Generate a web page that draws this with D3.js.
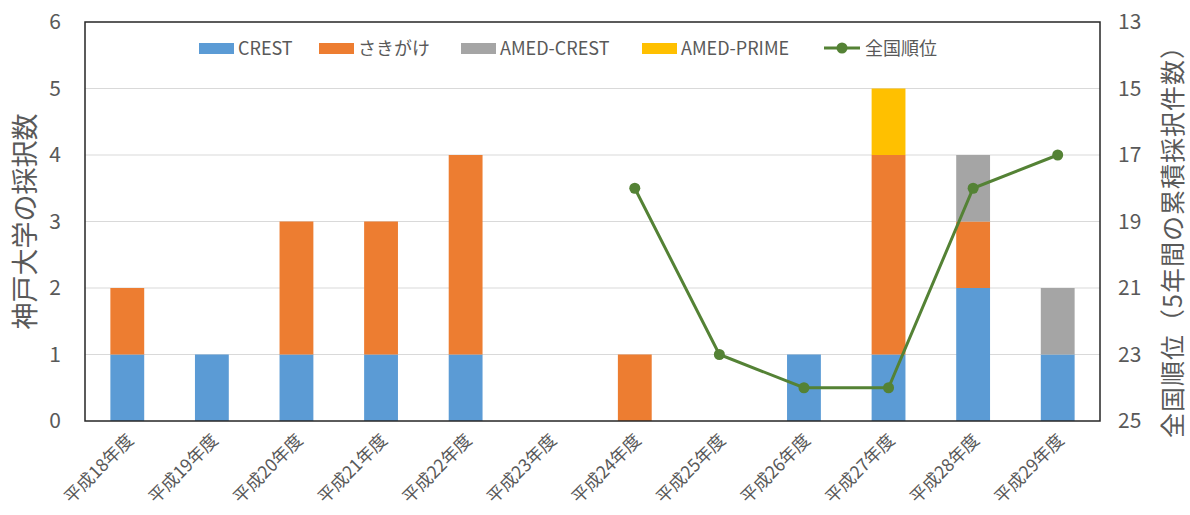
<!DOCTYPE html>
<html>
<head>
<meta charset="utf-8">
<script src="https://cdn.jsdelivr.net/npm/d3@7"></script>
<style>
  body { margin: 0; background: #fff; }
  text { font-family: "Noto Sans CJK JP", "Noto Sans", sans-serif; fill: #595959; }
</style>
</head>
<body>
<div id="chart"></div>
<script>
// データ
const years = ["平成18年度","平成19年度","平成20年度","平成21年度","平成22年度","平成23年度",
               "平成24年度","平成25年度","平成26年度","平成27年度","平成28年度","平成29年度"];
const crest      = [1, 1, 1, 1, 1, 0, 0, 0, 1, 1, 2, 1];
const sakigake   = [1, 0, 2, 2, 3, 0, 1, 0, 0, 3, 1, 0];
const amedCrest  = [0, 0, 0, 0, 0, 0, 0, 0, 0, 0, 1, 1];
const amedPrime  = [0, 0, 0, 0, 0, 0, 0, 0, 0, 1, 0, 0];
const rank       = [null, null, null, null, null, null, 18, 23, 24, 24, 18, 17];
const seriesNames = ["CREST", "さきがけ", "AMED-CREST", "AMED-PRIME"];
const colors = ["#5B9BD5", "#ED7D31", "#A5A5A5", "#FFC000"];
const lineName = "全国順位";
const lineColor = "#548235";

const W = 1190, H = 515;
const m = {left: 85, right: 90, top: 22, bottom: 94};

const svg = d3.select("#chart").append("svg")
  .attr("width", W).attr("height", H);

const x = d3.scaleBand().domain(years)
  .range([m.left, W - m.right]).paddingInner(0.6).paddingOuter(0.3);
const y = d3.scaleLinear().domain([0, 6]).range([H - m.bottom, m.top]);
const y2 = d3.scaleLinear().domain([25, 13]).range([H - m.bottom, m.top]);

// 積み上げ用テーブル
const table = years.map((yr, i) => ({
  year: yr, "CREST": crest[i], "さきがけ": sakigake[i],
  "AMED-CREST": amedCrest[i], "AMED-PRIME": amedPrime[i]
}));
const stacked = d3.stack().keys(seriesNames)(table);

// グリッド線
svg.append("g")
  .selectAll("line")
  .data(y.ticks(6).filter(d => d > 0 && d < 6))
  .join("line")
    .attr("x1", m.left).attr("x2", W - m.right)
    .attr("y1", d => y(d)).attr("y2", d => y(d))
    .attr("stroke", "#d9d9d9").attr("stroke-width", 1);

// 棒
svg.append("g")
  .selectAll("g")
  .data(stacked)
  .join("g")
    .attr("fill", (d, i) => colors[i])
  .selectAll("rect")
  .data(d => d)
  .join("rect")
    .attr("x", d => x(d.data.year))
    .attr("width", x.bandwidth())
    .attr("y", d => y(d[1]))
    .attr("height", d => y(d[0]) - y(d[1]));

// 枠
svg.append("rect")
  .attr("x", m.left).attr("y", m.top)
  .attr("width", W - m.right - m.left).attr("height", H - m.bottom - m.top)
  .attr("fill", "none").attr("stroke", "#262626").attr("stroke-width", 1.5);

// 左軸
const axL = svg.append("g")
  .attr("transform", `translate(${m.left},0)`)
  .call(d3.axisLeft(y).ticks(6).tickSize(0).tickPadding(24));
axL.select(".domain").remove();
axL.selectAll("text").style("font-size", "21px").attr("fill", "#595959");

// 右軸
const axR = svg.append("g")
  .attr("transform", `translate(${W - m.right},0)`)
  .call(d3.axisRight(y2).tickValues([13, 15, 17, 19, 21, 23, 25]).tickSize(0).tickPadding(18));
axR.select(".domain").remove();
axR.selectAll("text").style("font-size", "21px").attr("fill", "#595959");

// 下軸
const axB = svg.append("g")
  .attr("transform", `translate(0,${H - m.bottom})`)
  .call(d3.axisBottom(x).tickSize(0));
axB.select(".domain").remove();
axB.selectAll("text")
  .attr("x", 0).attr("y", 0).attr("dy", "0.35em")
  .style("font-size", "17.5px")
  .attr("fill", "#595959")
  .attr("text-anchor", "end")
  .attr("transform", "translate(3,16) rotate(-45)");

// 軸タイトル
svg.append("text")
  .attr("transform", `translate(35,${(m.top + H - m.bottom) / 2}) rotate(-90)`)
  .attr("text-anchor", "middle")
  .style("font-size", "27px")
  .text("神戸大学の採択数");

svg.append("text")
  .attr("transform", `translate(1182,${(m.top + H - m.bottom) / 2 + 14}) rotate(-90)`)
  .attr("text-anchor", "middle")
  .style("font-size", "25px")
  .style("letter-spacing", "1px")
  .text("全国順位（5年間の累積採択件数）");

// 折れ線
const line = d3.line()
  .defined(d => d.v != null)
  .x(d => x(d.year) + x.bandwidth() / 2)
  .y(d => y2(d.v));
const lineData = years.map((yr, i) => ({year: yr, v: rank[i]}));

svg.append("path")
  .datum(lineData)
  .attr("d", line)
  .attr("fill", "none")
  .attr("stroke", lineColor)
  .attr("stroke-width", 3);

svg.append("g")
  .selectAll("circle")
  .data(lineData.filter(d => d.v != null))
  .join("circle")
    .attr("cx", d => x(d.year) + x.bandwidth() / 2)
    .attr("cy", d => y2(d.v))
    .attr("r", 5.5)
    .attr("fill", lineColor);

// 凡例
const legendX = [199, 319, 461, 642];
const legend = svg.append("g");
seriesNames.forEach((name, i) => {
  legend.append("rect")
    .attr("x", legendX[i]).attr("y", 43)
    .attr("width", 35).attr("height", 11)
    .attr("fill", colors[i]);
  legend.append("text")
    .attr("x", legendX[i] + 39).attr("y", 49)
    .attr("dy", "0.35em")
    .style("font-size", "18px")
    .text(name);
});
legend.append("line")
  .attr("x1", 824).attr("x2", 860).attr("y1", 48).attr("y2", 48)
  .attr("stroke", lineColor).attr("stroke-width", 3);
legend.append("circle")
  .attr("cx", 842).attr("cy", 48).attr("r", 5.5).attr("fill", lineColor);
legend.append("text")
  .attr("x", 865).attr("y", 49)
  .attr("dy", "0.35em")
  .style("font-size", "18px")
  .text(lineName);
</script>
</body>
</html>
